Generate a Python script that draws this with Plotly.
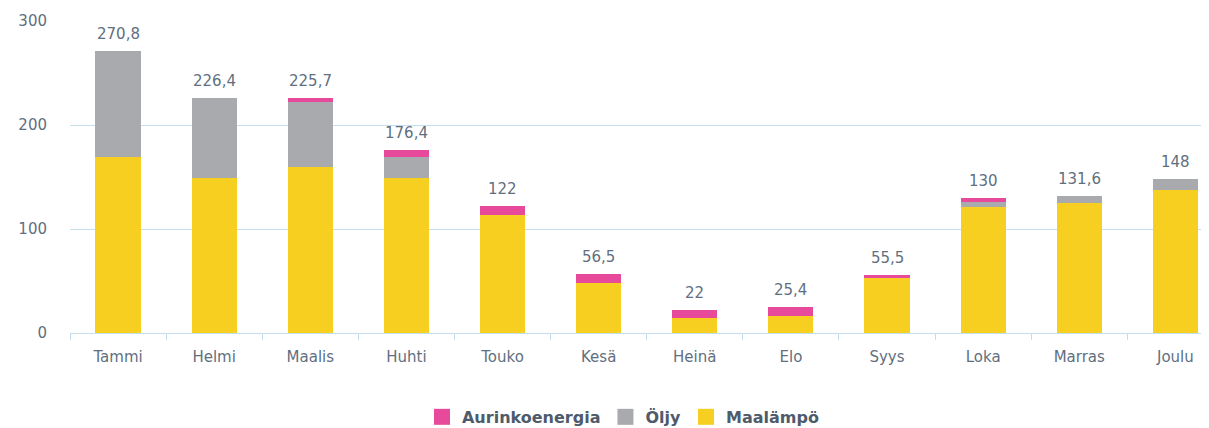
import plotly.graph_objects as go

months = ["Tammi", "Helmi", "Maalis", "Huhti", "Touko", "Kesä", "Heinä", "Elo", "Syys", "Loka", "Marras", "Joulu"]
maalampo = [169, 149, 160, 149, 113.5, 48, 14, 16.4, 53, 121, 125, 137.5]
oljy = [101.8, 77.4, 62, 20.4, 0, 0, 0, 0, 0, 5, 6.6, 10.5]
aurinko = [0, 0, 3.7, 7, 8.5, 8.5, 8, 9, 2.5, 4, 0, 0]
total_labels = ["270,8", "226,4", "225,7", "176,4", "122", "56,5", "22", "25,4", "55,5", "130", "131,6", "148"]
y_ticks = [0, 100, 200, 300]

totals = [a + b + c for a, b, c in zip(maalampo, oljy, aurinko)]

YELLOW = "#F6CF20"
GRAY = "#A8AAAD"
PINK = "#E84A9B"
TXT = "#5F6F80"
GRID = "#C6DEEB"
FONT = "DejaVu Sans, sans-serif"

series = [("Maalämpö", maalampo, YELLOW), ("Öljy", oljy, GRAY), ("Aurinkoenergia", aurinko, PINK)]

fig = go.Figure()
for name, vals, col in series:
    fig.add_trace(go.Bar(name=name, x=months, y=vals, showlegend=False,
                         marker=dict(color=col, line=dict(width=0))))
# legend entries with larger square swatches
for name, vals, col in reversed(series):
    fig.add_trace(go.Scatter(x=[None], y=[None], mode="markers", name=name,
                             marker=dict(symbol="square", size=18, color=col)))

for m, t, lab in zip(months, totals, total_labels):
    fig.add_annotation(x=m, y=t, text=lab, showarrow=False, yanchor="bottom", yshift=6,
                       font=dict(family=FONT, size=15, color=TXT))

fig.update_layout(
    barmode="stack",
    bargap=0.53,
    width=1209, height=428,
    margin=dict(l=62, r=8, t=13, b=103, autoexpand=False),
    plot_bgcolor="white", paper_bgcolor="white",
    font=dict(family=FONT, color=TXT),
    legend=dict(orientation="h", x=0.4855, xanchor="center", y=-0.269, yanchor="middle",
                traceorder="normal",
                font=dict(family=FONT, size=16, color="#4E5B6B", weight="bold"),
                itemwidth=30),
    xaxis=dict(range=[-0.5, 11.35], tickson="boundaries", ticks="outside", ticklen=6,
               tickcolor=GRID, tickfont=dict(family=FONT, size=15, color=TXT), showgrid=False,
               showline=False, automargin=False, ticklabelstandoff=13),
    yaxis=dict(range=[0, 300], tickvals=y_ticks, showgrid=True, gridcolor=GRID,
               zeroline=True, zerolinecolor=GRID, zerolinewidth=1,
               tickfont=dict(family=FONT, size=15, color=TXT), ticklabelstandoff=22, automargin=False),
)

fig.write_html("out.html")
